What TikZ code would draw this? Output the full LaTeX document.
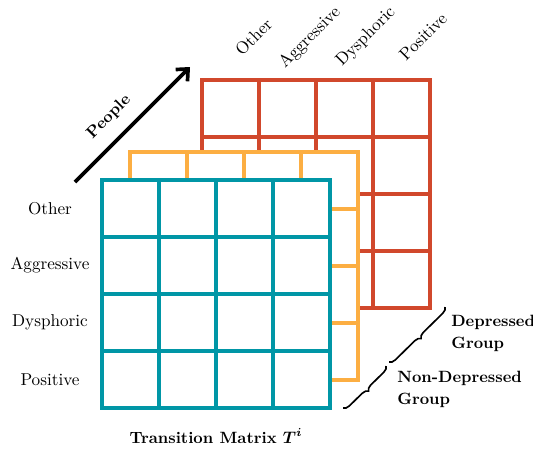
\documentclass[tikz,border=0pt]{standalone}
\usepackage{bm}
\usetikzlibrary{arrows.meta,decorations.pathreplacing}

\definecolor{depred}{RGB}{209,72,44}
\definecolor{midorange}{RGB}{252,174,66}
\definecolor{matteal}{RGB}{0,150,166}

\begin{document}
\begin{tikzpicture}[x=0.6pt, y=-0.6pt, font=\fontsize{10.3}{12.4}\selectfont,
	gridline/.style={line width=2pt},
	boldlab/.style={font=\fontsize{9.8}{13.2}\selectfont\bfseries},
	grouplab/.style={boldlab, align=left, inner sep=0pt, anchor=north west},
	collab/.style={rotate=45, anchor=base west, inner sep=0pt}]
	\useasboundingbox (0,0) rectangle (533,448);

	% matrices, back to front
	\foreach \d/\c in {100/depred, 28/midorange, 0/matteal} {
		\filldraw[gridline, draw=\c, fill=white] (102+\d,180-\d) rectangle (330+\d,408-\d);
		\foreach \k in {1,2,3} {
			\draw[gridline, draw=\c] (102+\d+57*\k,180-\d) -- (102+\d+57*\k,408-\d);
			\draw[gridline, draw=\c] (102+\d,180-\d+57*\k) -- (330+\d,180-\d+57*\k);
		}
	}

	% row labels
	\foreach \n/\t [count=\r from 0] in {rOther/Other, rAggr/Aggressive, rDysph/Dysphoric, rPos/Positive}
		\node (\n) at (50,208.5+57*\r) {\t};

	% column labels
	\node[collab] (cOther) at (242,57) {Other};
	\node[collab] (cAggr) at (285,69) {Aggressive};
	\node[collab] (cDysph) at (342,67) {Dysphoric};
	\node[collab] (cPos) at (406,62) {Positive};

	% people axis
	\coordinate (pStart) at (75,182);
	\coordinate (pEnd) at (190,67);
	\draw[line width=2.2pt, -{Straight Barb[length=5.5pt,width=10pt]}] (pStart) -- (pEnd);
	\node[boldlab, rotate=45] (people) at (109,117) {People};

	% groups
	\coordinate (bTop) at (445,307);
	\coordinate (bMidA) at (389,362);
	\coordinate (bMidB) at (386,366);
	\coordinate (bBot) at (343,408);
	\draw[line width=1pt, decorate, decoration={brace, amplitude=3.5pt}] (bTop) -- (bMidA);
	\draw[line width=1pt, decorate, decoration={brace, amplitude=3.5pt}] (bMidB) -- (bBot);
	\node[grouplab] (dep) at (451,315) {Depressed\\Group};
	\node[grouplab] (nondep) at (397,371) {Non-Depressed\\Group};

	\node[boldlab] (matTitle) at (216,436) {Transition Matrix $\bm{T^i}$};
\end{tikzpicture}
\end{document}
